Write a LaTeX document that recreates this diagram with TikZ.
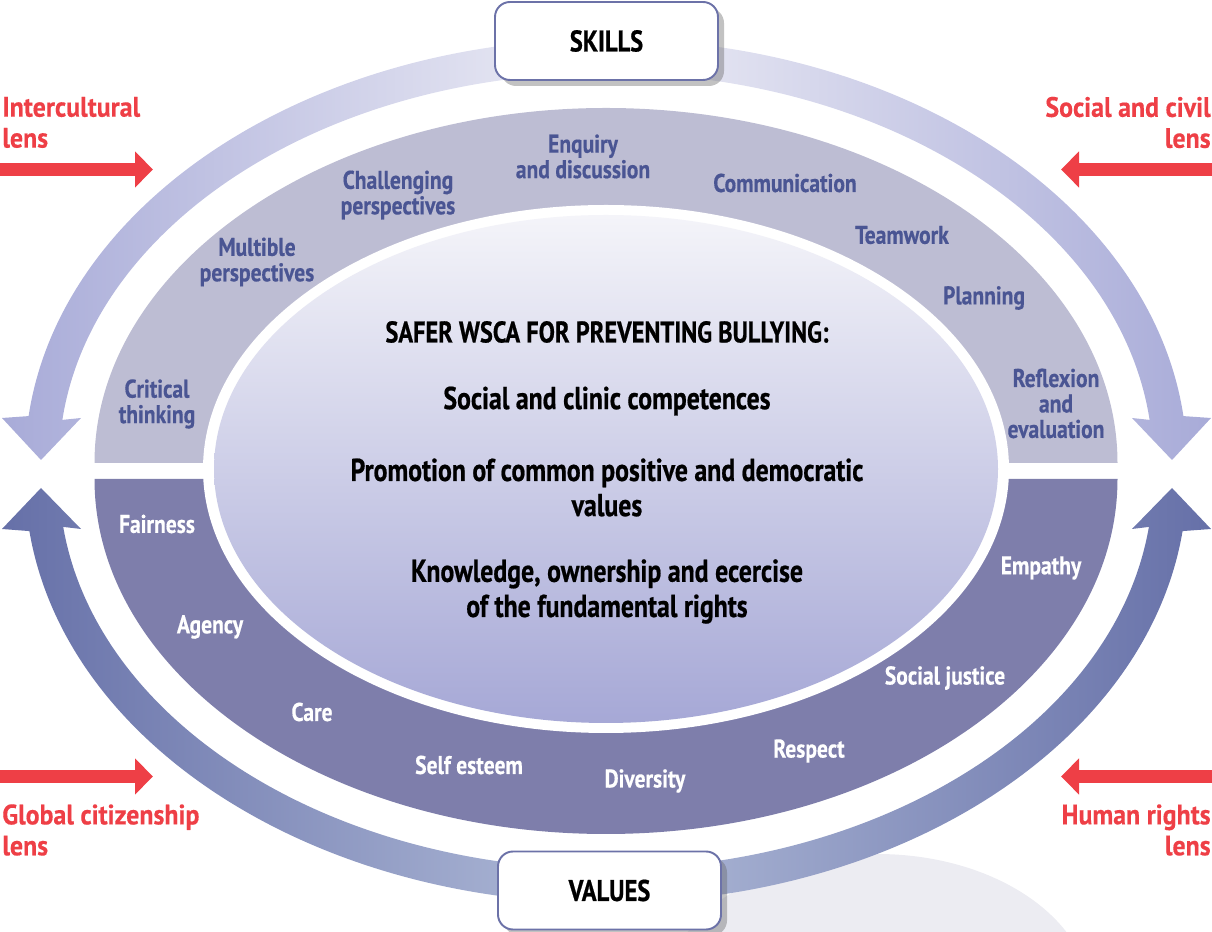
\documentclass[tikz,border=0pt]{standalone}
\usepackage{fontspec}
\setmainfont{PT Sans}[FakeStretch=0.815, BoldFeatures={FakeBold=0.6}]
\newfontfamily\labelfont{PT Sans}[FakeStretch=0.84, BoldFeatures={FakeBold=0.4}]
\newfontfamily\lensfont{PT Sans}[FakeStretch=0.92, BoldFeatures={FakeBold=0.4}]
\newfontfamily\boxfont{PT Sans}[FakeStretch=0.82, BoldFeatures={FakeBold=0.6}]
\usetikzlibrary{arrows.meta,shadows}
\definecolor{ringtop}{HTML}{BDBDD3}
\definecolor{ringbot}{HTML}{7E7EAB}
\definecolor{skillblue}{HTML}{4A5593}
\definecolor{lensred}{HTML}{EE3F46}
\definecolor{boxline}{HTML}{6C72A8}
\definecolor{arcup}{HTML}{A8ABD8}
\definecolor{arcupmid}{HTML}{EEEEF6}
\definecolor{arclow}{HTML}{6670A8}
\definecolor{arclowmid}{HTML}{B0BBD8}
\definecolor{coretop}{HTML}{F4F4F9}
\definecolor{corebot}{HTML}{A6A8D6}
\definecolor{backgray}{HTML}{ECECF2}
\tikzset{
    skilltxt/.style={text=skillblue, align=center, inner sep=0pt,
        font=\labelfont\fontsize{14.6}{14.5}\selectfont\bfseries},
    valuetxt/.style={text=white, align=center, inner sep=0pt,
        font=\labelfont\fontsize{14.6}{14.5}\selectfont\bfseries},
    coretxt/.style={align=center, inner sep=0pt,
        font=\fontsize{18}{20}\selectfont\bfseries},
    lenstxt/.style={text=lensred, inner sep=0pt,
        font=\lensfont\fontsize{16}{17.6}\selectfont\bfseries},
    lensarrow/.style={lensred, line width=2.6mm, -{Triangle[length=3.6mm,width=7mm]}},
    capbox/.style={draw=boxline, line width=1.1pt, fill=white, rounded corners=3mm,
        minimum width=44.6mm, minimum height=15.6mm,
        font=\boxfont\fontsize{17}{19}\selectfont\bfseries,
        drop shadow={shadow xshift=1.2mm, shadow yshift=-1.2mm, fill=black!60, opacity=.4}},
}
\begin{document}
\begin{tikzpicture}[x=0.2mm,y=0.2mm]
    \useasboundingbox (0,0) rectangle (1212,932);
    % grey blob behind the bottom
    \fill[backgray] (877,-68) ellipse [x radius=214, y radius=146];
    % the two big arrows
    \shade[left color=arcup, right color=arcup, middle color=arcupmid]
        (28.6,515.9) arc[start angle=173.65, end angle=6.35, x radius=581, y radius=424]
        -- (1211,514) -- (1172,472) -- (1132,514) -- (1149.6,512.1)
        arc[start angle=6.35, end angle=173.65, x radius=547, y radius=390]
        -- (81,514) -- (41,472) -- (2,514) -- cycle;
    \shade[left color=arclow, right color=arclow, middle color=arclowmid]
        (29.4,400.9) arc[start angle=187.06, end angle=352.94, x radius=581, y radius=424]
        -- (1211,403) -- (1172,444) -- (1132,403) -- (1148.9,405.1)
        arc[start angle=352.94, end angle=187.06, x radius=547, y radius=390]
        -- (81,403) -- (41,444) -- (2,403) -- cycle;
    % rings and core
    \fill[ringtop] (94.5,469) arc[start angle=180, end angle=0, x radius=511.5, y radius=355] -- cycle;
    \fill[ringbot] (94.5,453) arc[start angle=180, end angle=360, x radius=511.5, y radius=355] -- cycle;
    \fill[white] (606,463) ellipse [x radius=403, y radius=264];
    \shade[top color=coretop, bottom color=corebot] (606,463) ellipse [x radius=392, y radius=254];

    \node[capbox] (skills) at (606.5,891) {SKILLS};
    \node[capbox] (values) at (609.5,41.5) {VALUES};

    % lenses
    \coordinate (ic0) at (0,762.5);    \coordinate (ic1) at (153,762.5);
    \coordinate (sc0) at (1212,762.5); \coordinate (sc1) at (1061,762.5);
    \coordinate (gc0) at (0,155.5);    \coordinate (gc1) at (153,155.5);
    \coordinate (hr0) at (1212,155.5); \coordinate (hr1) at (1061,155.5);
    \draw[lensarrow] (ic0) -- (ic1);
    \draw[lensarrow] (sc0) -- (sc1);
    \draw[lensarrow] (gc0) -- (gc1);
    \draw[lensarrow] (hr0) -- (hr1);
    \node[lenstxt, anchor=west, align=left] (ictxt) at (2,809.5) {Intercultural\\lens};
    \node[lenstxt, anchor=east, align=right] (sctxt) at (1211,809.5) {Social and civil\\lens};
    \node[lenstxt, anchor=west, align=left] (gctxt) at (2,102) {Global citizenship\\lens};
    \node[lenstxt, anchor=east, align=right] (hrtxt) at (1211,102) {Human rights\\lens};

    % skills
    \node[skilltxt] (enq) at (583,775.5) {Enquiry\\and discussion};
    \node[skilltxt] (chal) at (398,737) {Challenging\\perspectives};
    \node[skilltxt] (mult) at (257,670) {Multible\\perspectives};
    \node[skilltxt] (crit) at (157,528) {Critical\\thinking};
    \node[skilltxt] (comm) at (785,749) {Communication};
    \node[skilltxt] (team) at (902,697) {Teamwork};
    \node[skilltxt] (plan) at (984,634) {Planning};
    \node[skilltxt] (refl) at (1056,528.5) {Reflexion\\and\\evaluation};

    % values
    \node[valuetxt] (fair) at (157,408) {Fairness};
    \node[valuetxt] (agen) at (210,305) {Agency};
    \node[valuetxt] (care) at (312,220) {Care};
    \node[valuetxt] (self) at (469,167) {Self esteem};
    \node[valuetxt] (dive) at (645,151) {Diversity};
    \node[valuetxt] (resp) at (809,181) {Respect};
    \node[valuetxt] (just) at (945,254) {Social justice};
    \node[valuetxt] (empa) at (1041,364) {Empathy};

    % core
    \node[coretxt, font=\fontsize{17}{20}\selectfont\bfseries] (title) at (607,600) {SAFER WSCA FOR PREVENTING BULLYING:};
    \node[coretxt] (social) at (607,531) {Social and clinic competences};
    \node[coretxt] (promo) at (607,444.5) {Promotion of common positive and democratic\\values};
    \node[coretxt] (know) at (607,340.5) {Knowledge, ownership and ecercise\\of the fundamental rights};
\end{tikzpicture}
\end{document}
